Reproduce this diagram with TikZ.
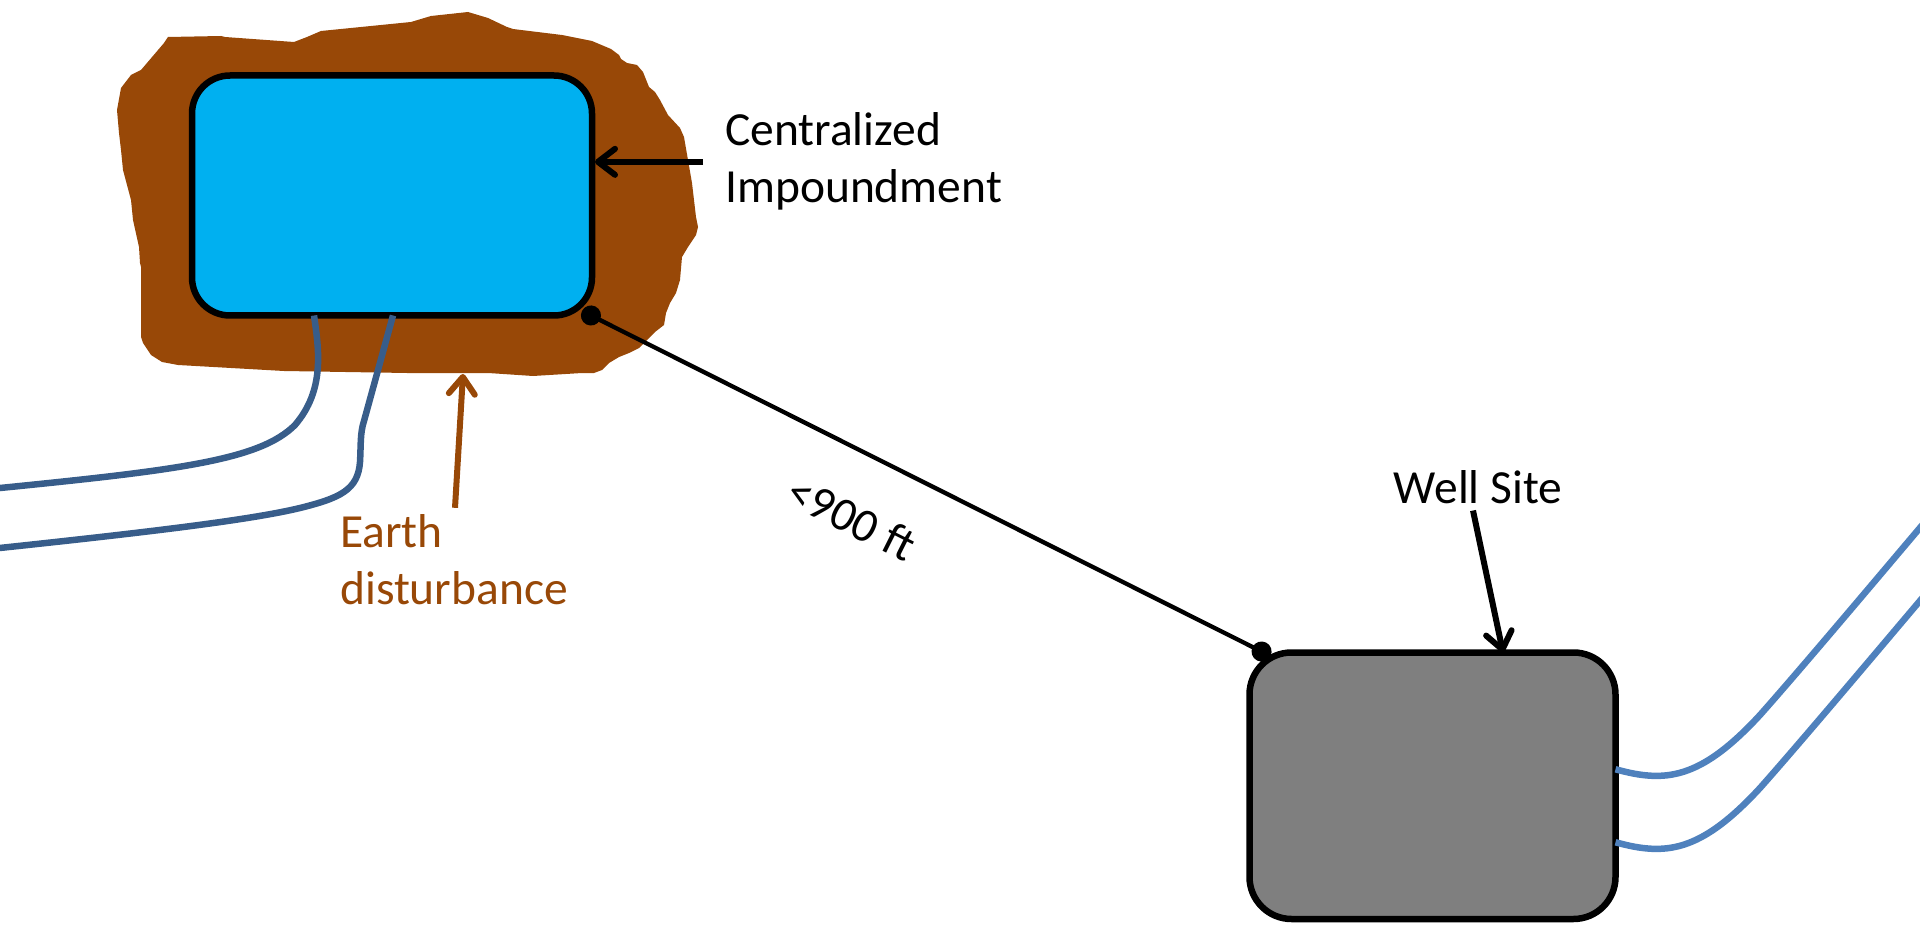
\documentclass[tikz,border=0pt]{standalone}
\usepackage{fontspec}
\setmainfont{Carlito}
\usetikzlibrary{arrows.meta,calc}
\definecolor{water}{HTML}{00B0F0}
\definecolor{earth}{HTML}{984807}
\definecolor{wellgray}{HTML}{7F7F7F}
\definecolor{pipedark}{HTML}{385D8A}
\definecolor{pipelight}{HTML}{4F81BD}
\begin{document}
\begin{tikzpicture}[x=1pt,y=-1pt,
  padbox/.style={draw=black, line width=6.5pt, inner sep=0pt, outer sep=0pt},
  lbl/.style={inner sep=0pt, font=\fontsize{47.5}{57}\selectfont, align=left},
  callout/.style={line width=6pt, -{Straight Barb[round,length=17pt,width=26pt]}},
  pipe/.style={line width=6.5pt},
  span/.style={line width=4.3pt, {Circle[length=20pt]}-{Circle[length=20pt]}}]
\useasboundingbox (0,0) rectangle (1920,925);

% disturbed ground around the impoundment
\fill[earth] (168,37) -- (221,36) -- (225,37) -- (294,42) -- (307,37) -- (321,31)
  -- (411,22) -- (431,16) -- (468,12) -- (488,18) -- (507,27) -- (513,29)
  -- (562,35) -- (592,41) -- (611,49) -- (619,55) -- (621,59) -- (627,63)
  -- (637,65) -- (643,72) -- (649,87) -- (655,92) -- (660,100) -- (668,115)
  -- (680,128) -- (684,137) -- (688,160) -- (692,183) -- (694,200) -- (696,217)
  -- (698,227) -- (696,235) -- (688,247) -- (682,257) -- (680,280) -- (676,293)
  -- (670,303) -- (666,313) -- (664,325) -- (655,332) -- (645,342) -- (639,348)
  -- (629,353) -- (619,357) -- (609,363) -- (602,370) -- (594,373) -- (582,373)
  -- (533,376) -- (488,373) -- (464,373) -- (407,373) -- (284,371) -- (178,365)
  -- (162,362) -- (151,355) -- (143,343) -- (141,337) -- (141,267) -- (140,263)
  -- (139,247) -- (133,220) -- (131,200) -- (127,185) -- (123,170) -- (121,150)
  -- (119,133) -- (117,110) -- (121,88) -- (131,75) -- (141,70) -- (164,43) -- cycle;
\coordinate (groundedge) at (463,374);

% impoundment and well pad
\node[padbox, fill=water, rounded corners=38pt, minimum width=400pt, minimum height=240pt] (imp) at (392,195.5) {};
\node[padbox, fill=wellgray, rounded corners=42pt, minimum width=366pt, minimum height=266.5pt] (well) at (1432.5,785.75) {};

% pipelines leaving the impoundment
\coordinate (pipeW1) at (-5,488.5);
\coordinate (pipeW2) at (-5,548.5);
\draw[pipe, pipedark] ($(imp.south)+(-78,0)$) .. controls (319,350) and (325,390) .. (295,425)
  .. controls (260,460) and (180,470) .. (pipeW1);
\draw[pipe, pipedark] ($(imp.south)+(1,0)$) -- (364,421) .. controls (360,433) and (361,445) .. (360,462)
  .. controls (358,490) and (340,498) .. (300,508)
  .. controls (250,520) and (150,532) .. (pipeW2);

% pipelines leaving the well pad
\coordinate (pipeE1) at (1924,523);
\coordinate (pipeE2) at (1924,596);
\draw[pipe, pipelight] ($(well.east)+(0,-16.5)$) .. controls (1665,783) and (1700,780) .. (1760,715)
  .. controls (1800,670) and (1880,575) .. (pipeE1);
\draw[pipe, pipelight] ($(well.east)+(0,56.5)$) .. controls (1665,856) and (1700,853) .. (1760,788)
  .. controls (1800,743) and (1880,648) .. (pipeE2);

% distance between impoundment and well pad
\coordinate (spanA) at ([xshift=-10pt,yshift=4.5pt]imp.south east);
\coordinate (spanB) at ([xshift=21pt,yshift=-3.5pt]well.north west);
\draw[span] (spanA) -- (spanB);
\node[lbl, rotate=-26.6] (dist) at ($(spanA)!0.4335!(spanB)!64.3pt!-90:(spanB)$) {<900 ft};

% labels
\node[lbl, anchor=base west] (ci) at (725,203) {Centralized\\Impoundment};
\draw[callout] ($(ci.west)+(-22,0)$) -- ($(ci.west -| imp.east)+(3,0)$);

\node[lbl, anchor=base] (ws) at (1478,503) {Well Site};
\draw[callout] ($(ws.south)+(-5,7)$) -- ($(well.north)+(70.5,0)$);

\node[lbl, anchor=base west, text=earth] (ed) at (340,604) {Earth\\disturbance};
\draw[callout, earth] ($(ed.north west)+(115,-6)$) -- (groundedge);
\end{tikzpicture}
\end{document}
